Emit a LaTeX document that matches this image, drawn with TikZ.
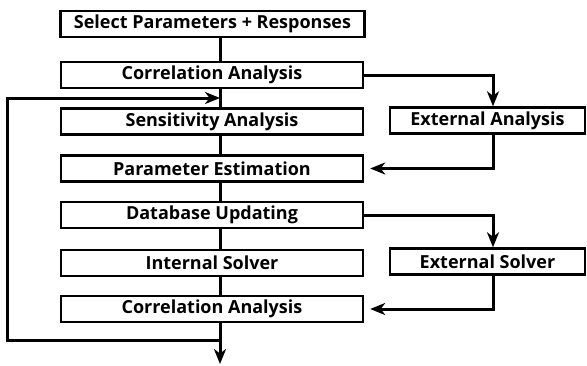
\documentclass[tikz,border=0pt]{standalone}
\usepackage{fontspec}
\setmainfont{Open Sans}
\usetikzlibrary{arrows.meta}
\begin{document}
\begin{tikzpicture}[x=1pt,y=-1pt,
  box/.style={draw,line width=2.4pt,minimum width=302pt,minimum height=26pt,inner sep=0pt,
    font=\fontsize{18}{20}\selectfont\bfseries},
  sbox/.style={box,minimum width=195pt},
  conn/.style={line width=3pt},
  arr/.style={conn,-{Stealth[length=15pt,width=12pt,inset=4.5pt]}}]
\useasboundingbox (0,0) rectangle (587,365);
\coordinate (spine) at (220,0);
\coordinate (rspine) at (493,0);
\node[box,minimum width=304pt] (s1) at (212.5,24) {Select Parameters + Responses};
\node[box] (c1) at (212,75) {Correlation Analysis};
\node[box] (sa) at (212,121.5) {Sensitivity Analysis};
\node[box] (pe) at (212,168.5) {Parameter Estimation};
\node[box] (du) at (212,215) {Database Updating};
\node[box] (is) at (212,263) {Internal Solver};
\node[box] (c2) at (212,309) {Correlation Analysis};
\node[sbox] (ea) at (487.5,120.5) {External Analysis};
\node[sbox] (es) at (487.5,261.5) {External Solver};
% spine
\draw[conn] (s1.south -| spine) -- (c1.north -| spine);
\draw[conn] (c1.south -| spine) -- (sa.north -| spine);
\draw[conn] (sa.south -| spine) -- (pe.north -| spine);
\draw[conn] (pe.south -| spine) -- (du.north -| spine);
\draw[conn] (du.south -| spine) -- (is.north -| spine);
\draw[conn] (is.south -| spine) -- (c2.north -| spine);
\coordinate (out) at (220,364);
\draw[arr] (c2.south -| spine) -- (out);
% feedback loop
\coordinate (lb) at (7,340);
\coordinate (lt) at (7,98);
\coordinate (fin) at (220,98);
\draw[arr] (c2.south -| spine) |- (lb) -- (lt) -- (fin);
% external analysis
\draw[arr] (c1.east) -| (ea.north -| rspine);
\draw[arr,shorten >=6pt] (ea.south -| rspine) |- (pe.east);
% external solver
\draw[arr] (du.east) -| (es.north -| rspine);
\draw[arr,shorten >=6pt] (es.south -| rspine) |- (c2.east);
\end{tikzpicture}
\end{document}
